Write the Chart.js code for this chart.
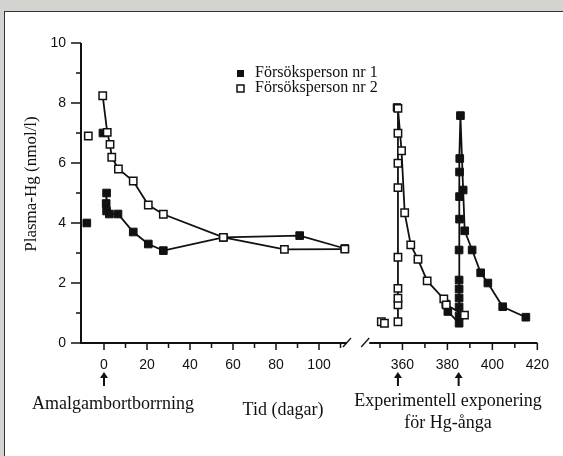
<!DOCTYPE html>
<html>
<head>
<meta charset="utf-8">
<script src="https://cdn.jsdelivr.net/npm/chart.js@4/dist/chart.umd.min.js"></script>
<style>
  html, body { margin: 0; padding: 0; background: #d3d4cf; }
  #panel { position: absolute; left: 4px; top: 11px; width: 559px; height: 445px; background: #fff; border-left: 1.5px solid #333; border-top: 1.5px solid #333; box-sizing: border-box; }
  #wrap { position: absolute; left: 0; top: 0; width: 563px; height: 456px; }
</style>
</head>
<body>
<div id="panel"></div>
<div id="wrap"><canvas id="hgChart"></canvas></div>
<script>
"use strict";

// Försöksperson nr 1 (filled squares), null breaks the line
const person1Days   = [-8, null, -0.5, null, 1.2, 1.0, 1.2, 2.5, 6.5, 13.6, 20.6, 27.6, 55.5, 91, 112, null,
                       357.6, null, 379.3, 380.2, 385.2, 385.2, 385.2, 385.2, 385.2, 385.2, 385.2, 385.4, 385.4, 385.4, 385.5, 385.8,
                       387, 387.7, 391, 394.8, 398, 404.6, 414.9];
const person1Values = [4.0, null, 7.0, null, 5.0, 4.65, 4.4, 4.3, 4.3, 3.7, 3.3, 3.08, 3.52, 3.58, 3.15, null,
                       7.85, null, 1.3, 1.05, 0.66, 0.9, 1.2, 1.5, 1.8, 2.1, 3.1, 4.13, 4.88, 5.7, 6.15, 7.58,
                       5.1, 3.74, 3.1, 2.34, 2.0, 1.21, 0.86];

// Försöksperson nr 2 (open squares)
const person2Days   = [-7.3, null, -0.6, 1.5, 2.8, 3.6, 6.7, 13.6, 20.6, 27.6, 55.5, 83.9, 112, null,
                       350.6, null, 352, null, 358, 358, 358, 358, 358, 358, 358, 358, 358,
                       359.6, 361, 363.7, 366.9, 371, 378.4, 379.5, 387.6];
const person2Values = [6.9, null, 8.24, 7.02, 6.62, 6.19, 5.8, 5.4, 4.6, 4.29, 3.52, 3.12, 3.13, null,
                       0.71, null, 0.66, null, 0.71, 1.27, 1.49, 1.82, 2.86, 5.18, 5.99, 6.99, 7.82,
                       6.41, 4.34, 3.27, 2.79, 2.07, 1.47, 1.27, 0.93];

// Tick positions on the broken time axis
const xTicksLeft   = [10, 20, 30, 40, 50, 60, 70, 80, 90, 100, 110];
const xLabelsLeft  = [0, 20, 40, 60, 80, 100];
const xTicksRight  = [350, 360, 370, 380, 390, 400, 410, 420];
const xLabelsRight = [360, 380, 400, 420];
const yTicks = [0, 1, 2, 3, 4, 5, 6, 7, 8, 9, 10];
const arrowDays = [0, 358, 385];

// Map real days onto one continuous axis (gap between day ~113 and ~343)
const RIGHT_START = 138.8;
const RIGHT_SLOPE = 1.0455;
function toAxis(day) {
  return day <= 200 ? day : RIGHT_START + (day - 360) * RIGHT_SLOPE;
}

function buildPoints(days, values) {
  return days.map((d, i) => d === null ? { x: NaN, y: null } : { x: toAxis(d), y: values[i] });
}

const allXTicks = [0].concat(xTicksLeft, xTicksRight);

const SERIF = "'Liberation Serif', 'Times New Roman', serif";
const SANS = "'Liberation Sans', Arial, sans-serif";

// Draws the broken axes, tick marks, legend and notes under the axis
const decorPlugin = {
  id: "decor",
  afterDraw(chart) {
    const { ctx, scales: { x, y } } = chart;
    const y0 = y.getPixelForValue(0);
    ctx.save();
    ctx.strokeStyle = "#111";
    ctx.fillStyle = "#111";
    ctx.lineCap = "butt";

    // y axis and its ticks
    ctx.lineWidth = 2;
    ctx.beginPath();
    ctx.moveTo(x.left, y0 + 1);
    ctx.lineTo(x.left, y.getPixelForValue(10));
    ctx.stroke();
    ctx.lineWidth = 1.5;
    yTicks.forEach(v => {
      const py = y.getPixelForValue(v);
      ctx.beginPath();
      ctx.moveTo(x.left - (v % 2 === 0 ? 10 : 5), py);
      ctx.lineTo(x.left, py);
      ctx.stroke();
    });

    // x axis: two segments with break marks
    const leftEnd = x.getPixelForValue(toAxis(113));
    const rightStart = x.getPixelForValue(toAxis(343));
    ctx.lineWidth = 2;
    ctx.beginPath();
    ctx.moveTo(x.left, y0);
    ctx.lineTo(leftEnd, y0);
    ctx.moveTo(rightStart + 5, y0);
    ctx.lineTo(x.right, y0);
    ctx.stroke();
    ctx.lineWidth = 1.3;
    ctx.beginPath();
    ctx.moveTo(leftEnd - 4, y0 + 4);
    ctx.lineTo(leftEnd + 4, y0 - 5);
    ctx.moveTo(rightStart - 3, y0 + 4);
    ctx.lineTo(rightStart + 5, y0 - 5);
    ctx.stroke();

    ctx.lineWidth = 1.5;
    xTicksLeft.concat([0], xTicksRight).forEach(d => {
      const px = x.getPixelForValue(toAxis(d));
      const major = xLabelsLeft.includes(d) || xLabelsRight.includes(d);
      ctx.beginPath();
      ctx.moveTo(px, y0);
      ctx.lineTo(px, y0 + (major ? 7 : 5));
      ctx.stroke();
    });

    // arrows under the axis
    arrowDays.forEach(d => {
      const px = x.getPixelForValue(toAxis(d));
      ctx.lineWidth = 2;
      ctx.beginPath();
      ctx.moveTo(px, 386);
      ctx.lineTo(px, 376);
      ctx.stroke();
      ctx.beginPath();
      ctx.moveTo(px - 4, 378);
      ctx.lineTo(px, 372);
      ctx.lineTo(px + 4, 378);
      ctx.closePath();
      ctx.fill();
    });

    // notes
    ctx.font = "18px " + SERIF;
    ctx.textAlign = "center";
    ctx.textBaseline = "middle";
    ctx.fillText("Amalgambortborrning", 113, 404);
    ctx.fillText("Tid (dagar)", 283, 410);
    ctx.fillText("Experimentell exponering", 448, 401);
    ctx.fillText("för Hg-ånga", 448, 423);

    // legend
    ctx.font = "16px " + SERIF;
    ctx.textAlign = "left";
    ctx.fillText("Försöksperson nr 1", 255, 73);
    ctx.fillText("Försöksperson nr 2", 255, 88);

    // y title
    ctx.font = "17px " + SERIF;
    ctx.textAlign = "center";
    ctx.save();
    ctx.translate(32, 184);
    ctx.rotate(-Math.PI / 2);
    ctx.fillText("Plasma-Hg (nmol/l)", 0, 0);
    ctx.restore();

    ctx.fillRect(237, 70, 7, 7);
    ctx.fillStyle = "#fff";
    ctx.lineWidth = 1.5;
    ctx.fillRect(237, 85, 7, 7);
    ctx.strokeRect(237, 85, 7, 7);
    ctx.restore();
  }
};

function renderHgChart() {
  const canvas = document.getElementById("hgChart");

  const config = {
    type: "line",
    data: {
      datasets: [
        {
          label: "Försöksperson nr 1",
          data: buildPoints(person1Days, person1Values),
          borderColor: "#111",
          borderWidth: 1.8,
          pointStyle: "rect",
          pointRadius: 5.4,
          pointBackgroundColor: "#111",
          pointBorderColor: "#111",
          pointBorderWidth: 1,
          spanGaps: false,
          order: 2
        },
        {
          label: "Försöksperson nr 2",
          data: buildPoints(person2Days, person2Values),
          borderColor: "#111",
          borderWidth: 1.8,
          pointStyle: "rect",
          pointRadius: 5.2,
          pointBackgroundColor: "#fff",
          pointBorderColor: "#111",
          pointBorderWidth: 1.5,
          spanGaps: false,
          order: 1
        }
      ]
    },
    options: {
      responsive: true,
      maintainAspectRatio: false,
      animation: false,
      layout: { padding: { left: 0, top: 43, right: 25, bottom: 0 } },
      plugins: {
        legend: { display: false },
        tooltip: { enabled: false }
      },
      scales: {
        x: {
          type: "linear",
          min: -10.7,
          max: toAxis(420),
          grid: { display: false, drawTicks: false },
          border: { display: false },
          afterBuildTicks: scale => {
            scale.ticks = allXTicks.map(d => ({ value: toAxis(d) }));
          },
          afterFit: scale => { scale.height = 113; },
          ticks: {
            autoSkip: false,
            maxRotation: 0,
            padding: 14,
            color: "#111",
            font: { family: SANS, size: 14 },
            callback: (value, index) => {
              const d = allXTicks[index];
              return (xLabelsLeft.includes(d) || xLabelsRight.includes(d)) ? String(d) : "";
            }
          }
        },
        y: {
          min: 0,
          max: 10,
          grid: { display: false, drawTicks: false },
          border: { display: false },
          afterFit: scale => { scale.width = 81; },
          ticks: {
            stepSize: 1,
            padding: 15,
            color: "#111",
            font: { family: SANS, size: 14 },
            callback: v => (v % 2 === 0 ? String(v) : "")
          }
        }
      }
    },
    plugins: [decorPlugin]
  };

  new Chart(canvas, config);
}

renderHgChart();
</script>
</body>
</html>
